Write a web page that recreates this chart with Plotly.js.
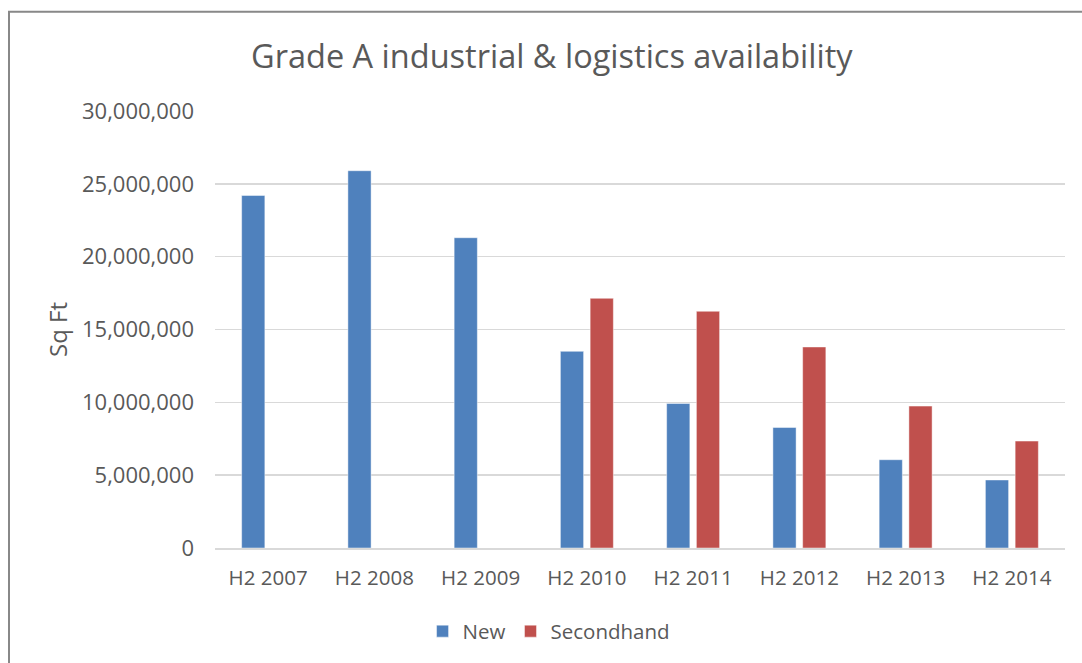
<!DOCTYPE html>
<html>
<head>
<meta charset="utf-8">
<script src="https://cdn.plot.ly/plotly-3.0.1.min.js"></script>
<style>
  html, body { margin: 0; padding: 0; background: #ffffff; overflow: hidden; }
  #chart { width: 1082px; height: 663px; }
</style>
</head>
<body>
<div id="chart"></div>
<script>
const categories = ["H2 2007", "H2 2008", "H2 2009", "H2 2010", "H2 2011", "H2 2012", "H2 2013", "H2 2014"];
const newValues = [24200000, 25900000, 21300000, 13500000, 9920000, 8270000, 6060000, 4670000];
const secondhandValues = [null, null, null, 17140000, 16250000, 13800000, 9740000, 7340000];
const yTickValues = [0, 5000000, 10000000, 15000000, 20000000, 25000000, 30000000];

const textColor = "#595959";
const fontFamily = "'Open Sans', 'Noto Sans', sans-serif";

const traces = [
  {
    type: "bar",
    name: "New",
    x: categories,
    y: newValues,
    marker: { color: "#4F81BD", line: { color: "rgba(255,255,255,0.45)", width: 1 } },
    hoverinfo: "x+y+name"
  },
  {
    type: "bar",
    name: "Secondhand",
    x: categories,
    y: secondhandValues,
    marker: { color: "#C0504D", line: { color: "rgba(255,255,255,0.45)", width: 1 } },
    hoverinfo: "x+y+name"
  }
];

const layout = {
  width: 1082,
  height: 663,
  paper_bgcolor: "#ffffff",
  plot_bgcolor: "#ffffff",
  font: { family: fontFamily, color: textColor, size: 20 },
  margin: { l: 215, r: 17, t: 110.5, b: 114.5, pad: 0 },
  title: {
    text: "Grade A industrial &amp; logistics availability",
    font: { family: fontFamily, size: 32.5, color: textColor },
    x: 0.51, xref: "container", xanchor: "center",
    y: 1 - 57 / 663, yref: "container", yanchor: "middle"
  },
  barmode: "group",
  bargap: 0.44,
  bargroupgap: 0.22,
  xaxis: {
    type: "category",
    showgrid: false,
    showline: true,
    linecolor: "#d9d9d9",
    linewidth: 2,
    ticks: "",
    tickfont: { family: fontFamily, size: 20.5, color: textColor },
    ticklabelstandoff: 10,
    fixedrange: true
  },
  yaxis: {
    range: [0, 30000000],
    tickvals: yTickValues,
    tickformat: ",",
    showgrid: true,
    gridcolor: "#d9d9d9",
    gridwidth: 1.5,
    zeroline: false,
    showline: false,
    ticks: "",
    tickfont: { family: fontFamily, size: 22, color: textColor },
    ticklabelstandoff: 20,
    title: { text: "Sq Ft", font: { family: fontFamily, size: 24, color: textColor }, standoff: 7 },
    fixedrange: true
  },
  showlegend: true,
  legend: {
    orientation: "h",
    x: 0.393, xanchor: "center",
    y: (548.5 - 632) / 438, yanchor: "middle",
    font: { family: fontFamily, size: 20.5, color: textColor },
    itemwidth: 30,
    traceorder: "normal",
    bgcolor: "rgba(0,0,0,0)"
  },
  shapes: [
    {
      type: "rect", xref: "paper", yref: "paper",
      x0: (9 - 215) / 850, x1: (1100 - 215) / 850,
      y0: (548.5 - 700) / 438, y1: (548.5 - 11) / 438,
      line: { color: "#888888", width: 2 },
      fillcolor: "rgba(0,0,0,0)",
      layer: "below"
    }
  ]
};

Plotly.newPlot("chart", traces, layout, { displayModeBar: false, staticPlot: true });
</script>
</body>
</html>
